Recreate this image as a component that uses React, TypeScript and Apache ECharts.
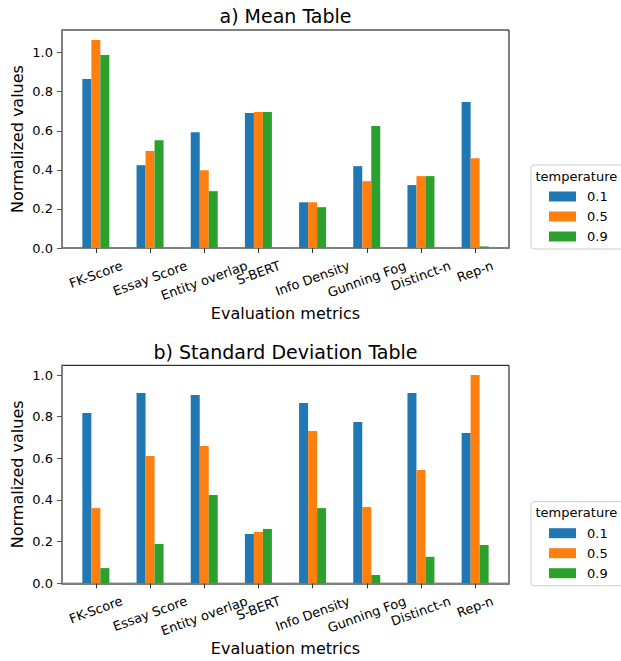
import React, { useEffect, useRef } from 'react';
import * as echarts from 'echarts';

const categories = ['FK-Score', 'Essay Score', 'Entity overlap', 'S-BERT', 'Info Density', 'Gunning Fog', 'Distinct-n', 'Rep-n'];
const temperatures = ['0.1', '0.5', '0.9'];
const meanT01 = [0.865, 0.424, 0.593, 0.691, 0.234, 0.419, 0.322, 0.747];
const meanT05 = [1.065, 0.496, 0.398, 0.696, 0.234, 0.342, 0.368, 0.46];
const meanT09 = [0.988, 0.552, 0.291, 0.696, 0.209, 0.624, 0.368, 0.008];
const stdT01 = [0.818, 0.914, 0.904, 0.237, 0.866, 0.774, 0.914, 0.722];
const stdT05 = [0.361, 0.611, 0.659, 0.246, 0.731, 0.366, 0.544, 1.0];
const stdT09 = [0.073, 0.189, 0.424, 0.261, 0.361, 0.04, 0.127, 0.184];
const yTicks = [0, 0.2, 0.4, 0.6, 0.8, 1.0];
const panelTitles = ['a) Mean Table', 'b) Standard Deviation Table'];
const xName = 'Evaluation metrics';
const yName = 'Normalized values';
const legendTitle = 'temperature';

const FONT = '"DejaVu Sans", sans-serif';
const COLORS = ['#1f77b4', '#ff7f0e', '#2ca02c'];
const ROT = 20;
const TICK_FS = 13;

function measure(text: string, size: number): number {
  const ctx = document.createElement('canvas').getContext('2d');
  if (!ctx) return text.length * size * 0.6;
  ctx.font = `${size}px "DejaVu Sans"`;
  return ctx.measureText(text).width;
}

export default function App() {
  const ref = useRef<HTMLDivElement>(null);
  useEffect(() => {
    if (!ref.current) return;
    const chart = echarts.init(ref.current, null, { renderer: 'svg' });
    const th = (ROT * Math.PI) / 180;
    const rich: Record<string, any> = {};
    categories.forEach((c, i) => {
      const w = measure(c, TICK_FS);
      const h = 15;
      const D = (w * Math.sin(th) + h * Math.cos(th)) / 2;
      rich['c' + i] = {
        fontSize: TICK_FS,
        fontFamily: FONT,
        color: '#000',
        padding: [2 * D * Math.cos(th), 2 * D * Math.sin(th), 0, 0],
      };
    });
    const idx = categories.map((_, i) => i);
    const grids = [
      { left: 62, top: 30, width: 447, height: 218 },
      { left: 62, top: 365.3, width: 447, height: 218 },
    ];
    const ymax = [1.116, 1.0466];
    const dataSets = [
      [meanT01, meanT05, meanT09],
      [stdT01, stdT05, stdT09],
    ];
    const graphic: any[] = [];
    grids.forEach((g, gi) => {
      graphic.push({
        type: 'text', x: 285.5, y: gi === 0 ? 15.8 : 352.1,
        style: { text: panelTitles[gi], fontSize: 19, fontFamily: FONT, fill: '#000', align: 'center', verticalAlign: 'middle' },
      });
      graphic.push({
        type: 'text', x: 285.5, y: g.top + g.height + 65.3,
        style: { text: xName, fontSize: 16, fontFamily: FONT, fill: '#000', align: 'center', verticalAlign: 'middle' },
      });
      graphic.push({
        type: 'text', x: 17.3, y: g.top + g.height / 2, rotation: Math.PI / 2,
        style: { text: yName, fontSize: 16, fontFamily: FONT, fill: '#000', align: 'center', verticalAlign: 'middle' },
      });
      graphic.push({
        type: 'text', x: 535.5, y: gi === 0 ? 176.5 : 512.5, z: 100,
        style: { text: legendTitle, fontSize: 13, fontFamily: FONT, fill: '#000', align: 'left', verticalAlign: 'middle' },
      });
    });
    const option: any = {
      animation: false,
      backgroundColor: '#fff',
      grid: grids.map((g) => ({ ...g, show: true, borderColor: '#000', borderWidth: 1, backgroundColor: 'transparent' })),
      xAxis: grids.map((_, gi) => ({
        type: 'value',
        gridIndex: gi,
        min: -0.625,
        max: 7.625,
        axisLine: { show: true, onZero: false, lineStyle: { color: '#808080', width: 2 } },
        axisTick: { show: true, customValues: idx, length: 5, lineStyle: { color: '#333', width: 1 } },
        axisLabel: {
          show: true,
          customValues: idx,
          rotate: ROT,
          align: 'center',
          verticalAlign: 'middle',
          margin: 10,
          formatter: (v: number) => {
            const i = Math.round(v);
            return `{c${i}|${categories[i]}}`;
          },
          rich,
        },
        splitLine: { show: false },
      })),
      yAxis: grids.map((_, gi) => ({
        type: 'value',
        gridIndex: gi,
        min: 0,
        max: ymax[gi],
        axisLine: { show: true, onZero: false, lineStyle: { color: '#808080', width: 2 } },
        axisTick: { show: true, customValues: yTicks, length: 5, lineStyle: { color: '#555', width: 1 } },
        axisLabel: {
          customValues: yTicks,
          formatter: (v: number) => v.toFixed(1),
          fontSize: TICK_FS,
          fontFamily: FONT,
          color: '#000',
          margin: 9,
        },
        splitLine: { show: false },
      })),
      legend: grids.map((_, gi) => ({
        orient: 'vertical',
        left: 531,
        top: gi === 0 ? 165 : 501.7,
        data: temperatures,
        icon: 'rect',
        itemWidth: 27,
        itemHeight: 10,
        itemGap: 7,
        padding: [25, 40, 6, 18],
        borderColor: '#ccc',
        borderWidth: 1,
        borderRadius: 3,
        backgroundColor: '#fff',
        selectedMode: false,
        textStyle: { fontSize: 13, fontFamily: FONT, color: '#000', padding: [0, 0, 0, 6] },
      })),
      series: dataSets.flatMap((set, gi) =>
        set.map((vals, k) => ({
          type: 'bar',
          name: temperatures[k],
          xAxisIndex: gi,
          yAxisIndex: gi,
          data: vals.map((v, i) => [i, v]),
          barWidth: 9,
          barGap: '0%',
          itemStyle: { color: COLORS[k] },
        }))
      ),
      graphic,
    };
    chart.setOption(option);
    return () => chart.dispose();
  }, []);
  return <div ref={ref} style={{ position: 'fixed', left: 0, top: 0, width: 621, height: 661 }} />;
}
